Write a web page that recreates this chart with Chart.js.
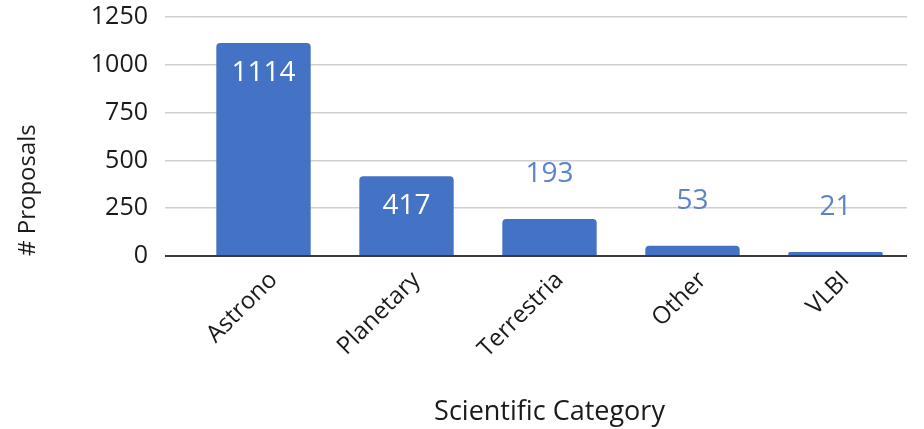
<!DOCTYPE html>
<html>
<head>
<meta charset="utf-8">
<script src="https://cdn.jsdelivr.net/npm/chart.js@4"></script>
<style>
  html, body { margin: 0; padding: 0; background: #fff; }
  #wrap { width: 924px; height: 429px; }
</style>
</head>
<body>
<div id="wrap"><canvas id="chart"></canvas></div>
<script>
// data
const categories = ['Astrono', 'Planetary', 'Terrestria', 'Other', 'VLBI'];
const proposals = [1114, 417, 193, 53, 21];
const yTicks = [0, 250, 500, 750, 1000, 1250];

const BLUE = '#4472C4';

// value labels: inside the bar (white) for tall bars, above it (blue) for short ones
const valueLabels = {
  id: 'valueLabels',
  afterDatasetsDraw(chart) {
    const ctx = chart.ctx;
    const meta = chart.getDatasetMeta(0);
    ctx.save();
    ctx.font = '28px "Open Sans"';
    ctx.textAlign = 'center';
    ctx.textBaseline = 'middle';
    meta.data.forEach((bar, i) => {
      const v = proposals[i];
      const h = bar.base - bar.y;
      if (h > 60) {
        ctx.fillStyle = '#ffffff';
        ctx.fillText(String(v), bar.x, bar.y + 30);
      } else {
        ctx.fillStyle = '#5B84C9';
        ctx.fillText(String(v), bar.x, bar.y - 45);
      }
    });
    ctx.restore();
  }
};

new Chart(document.getElementById('chart'), {
  type: 'bar',
  data: {
    labels: categories,
    datasets: [{
      data: proposals,
      backgroundColor: BLUE,
      borderRadius: 4,
      borderSkipped: 'bottom',
      categoryPercentage: 0.66,
      barPercentage: 1
    }]
  },
  options: {
    responsive: true,
    maintainAspectRatio: false,
    animation: false,
    layout: { padding: { top: 17, right: 17, left: 0, bottom: 0 } },
    plugins: {
      legend: { display: false },
      tooltip: { enabled: false }
    },
    scales: {
      x: {
        grid: { display: false },
        border: { display: false },
        ticks: {
          color: '#1a1a1a',
          font: { family: '"Open Sans"', size: 24 },
          minRotation: 45,
          maxRotation: 45,
          padding: 2,
          labelOffset: 10
        },
        title: {
          display: true,
          text: 'Scientific Category',
          color: '#1a1a1a',
          font: { family: '"Open Sans"', size: 27 },
          padding: { top: 20, bottom: 0 }
        },
        afterFit(scale) { scale.height = 173; }
      },
      y: {
        min: 0,
        max: 1250,
        afterBuildTicks(scale) { scale.ticks = yTicks.map(v => ({ value: v })); },
        border: { display: false },
        grid: {
          color: c => (c.tick && c.tick.value === 0) ? '#3a3a3a' : '#d0d0d0',
          lineWidth: c => (c.tick && c.tick.value === 0) ? 2 : 1.5,
          tickLength: 27,
          drawTicks: true
        },
        ticks: {
          color: '#1a1a1a',
          font: { family: '"Open Sans"', size: 25 },
          padding: 17,
          callback: v => String(v)
        },
        title: {
          display: true,
          text: '# Proposals',
          align: 'start',
          color: '#1a1a1a',
          font: { family: '"Open Sans"', size: 24 },
          padding: { top: 14, bottom: 0 }
        },
        afterFit(scale) {
          scale.width = 192;
          scale.paddingTop = 0;
        }
      }
    }
  },
  plugins: [valueLabels]
});
</script>
</body>
</html>
